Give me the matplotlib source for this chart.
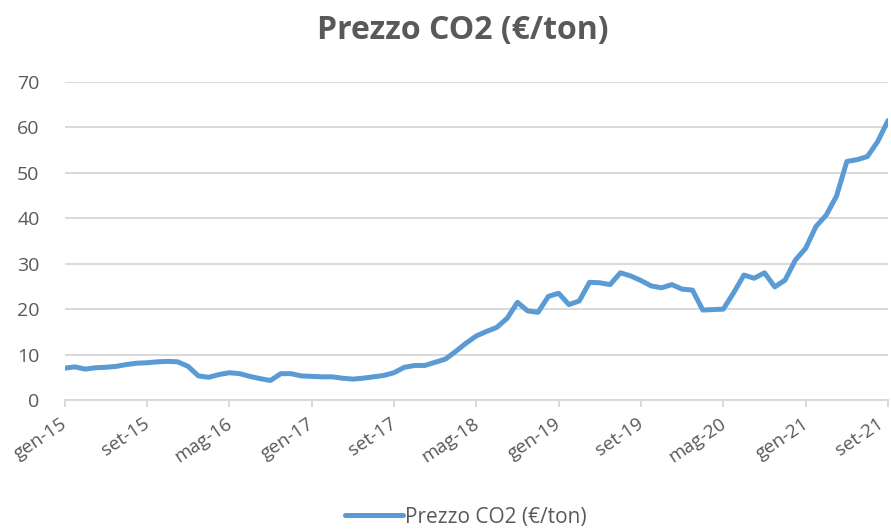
import matplotlib
matplotlib.use("Agg")
import matplotlib.pyplot as plt
import numpy as np

tick_labels = ["gen-15", "set-15", "mag-16", "gen-17", "set-17", "mag-18",
               "gen-19", "set-19", "mag-20", "gen-21", "set-21"]

prezzo = [
    7.0, 7.3, 6.8, 7.1, 7.2, 7.4, 7.8, 8.1, 8.2, 8.4,
    8.5, 8.4, 7.4, 5.3, 5.0, 5.6, 6.0, 5.8, 5.2, 4.7,
    4.3, 5.8, 5.8, 5.3, 5.2, 5.1, 5.1, 4.8, 4.6, 4.8,
    5.1, 5.4, 6.0, 7.2, 7.6, 7.6, 8.3, 9.0, 10.7, 12.5,
    14.1, 15.1, 16.0, 18.0, 21.5, 19.6, 19.3, 22.8, 23.5, 21.0,
    21.8, 25.9, 25.8, 25.4, 28.0, 27.3, 26.3, 25.1, 24.7, 25.4,
    24.4, 24.2, 19.8, 19.9, 20.0, 23.6, 27.5, 26.8, 28.0, 24.9,
    26.4, 30.8, 33.4, 38.2, 40.7, 44.9, 52.5, 52.9, 53.6, 56.9,
    61.5,
]

FONT = "Open Sans"
TXT = "#595959"
GRID = "#d9d9d9"
LINE = "#5b9bd5"

fig = plt.figure(figsize=(8.91, 5.31), dpi=100)
ax = fig.add_axes([64.6 / 891, 1 - 400 / 531, (888 - 64.6) / 891, 318 / 531])

x = np.arange(len(prezzo))
ax.plot(x, prezzo, color=LINE, lw=3.6, solid_capstyle="round",
        solid_joinstyle="round", label="Prezzo CO2 (€/ton)")

ax.set_xlim(0, len(prezzo) - 1)
ax.set_ylim(0, 70)
ax.set_yticks(np.arange(0, 71, 10))
tick_pos = np.arange(0, len(prezzo), 8)
ax.set_xticks(tick_pos)
ax.set_xticklabels([])
for i, (p, lab) in enumerate(zip(tick_pos, tick_labels)):
    dx = -6 if i == len(tick_labels) - 1 else 1
    ax.annotate(lab, xy=(p, 0), xycoords=("data", "axes fraction"),
                xytext=(dx, -22), textcoords="offset pixels",
                rotation=34, ha="right", va="center", rotation_mode="anchor",
                fontfamily=FONT, fontsize=13.5, color=TXT, annotation_clip=False)
for lab in ax.get_yticklabels():
    lab.set_fontfamily(FONT)
    lab.set_fontsize(14)
    lab.set_color(TXT)

ax.grid(axis="y", color=GRID, lw=1.4)
ax.set_axisbelow(True)
for s in ["top", "right", "left"]:
    ax.spines[s].set_visible(False)
ax.spines["bottom"].set_color(GRID)
ax.spines["bottom"].set_linewidth(1.4)
ax.tick_params(axis="y", length=0, pad=18)
ax.tick_params(axis="x", length=5, width=1.4, color=GRID)

fig.suptitle("Prezzo CO2 (€/ton)", x=463 / 891, y=1 - 30 / 531, va="center",
             fontfamily=FONT, fontweight="bold", fontsize=23, color=TXT)

leg = fig.legend(loc="center", bbox_to_anchor=(466 / 891, 1 - 517 / 531),
                 frameon=False, handlelength=2.8, handletextpad=0.1,
                 prop={"family": FONT, "size": 15})
for t in leg.get_texts():
    t.set_color(TXT)

fig.savefig("out.png", dpi=100)
